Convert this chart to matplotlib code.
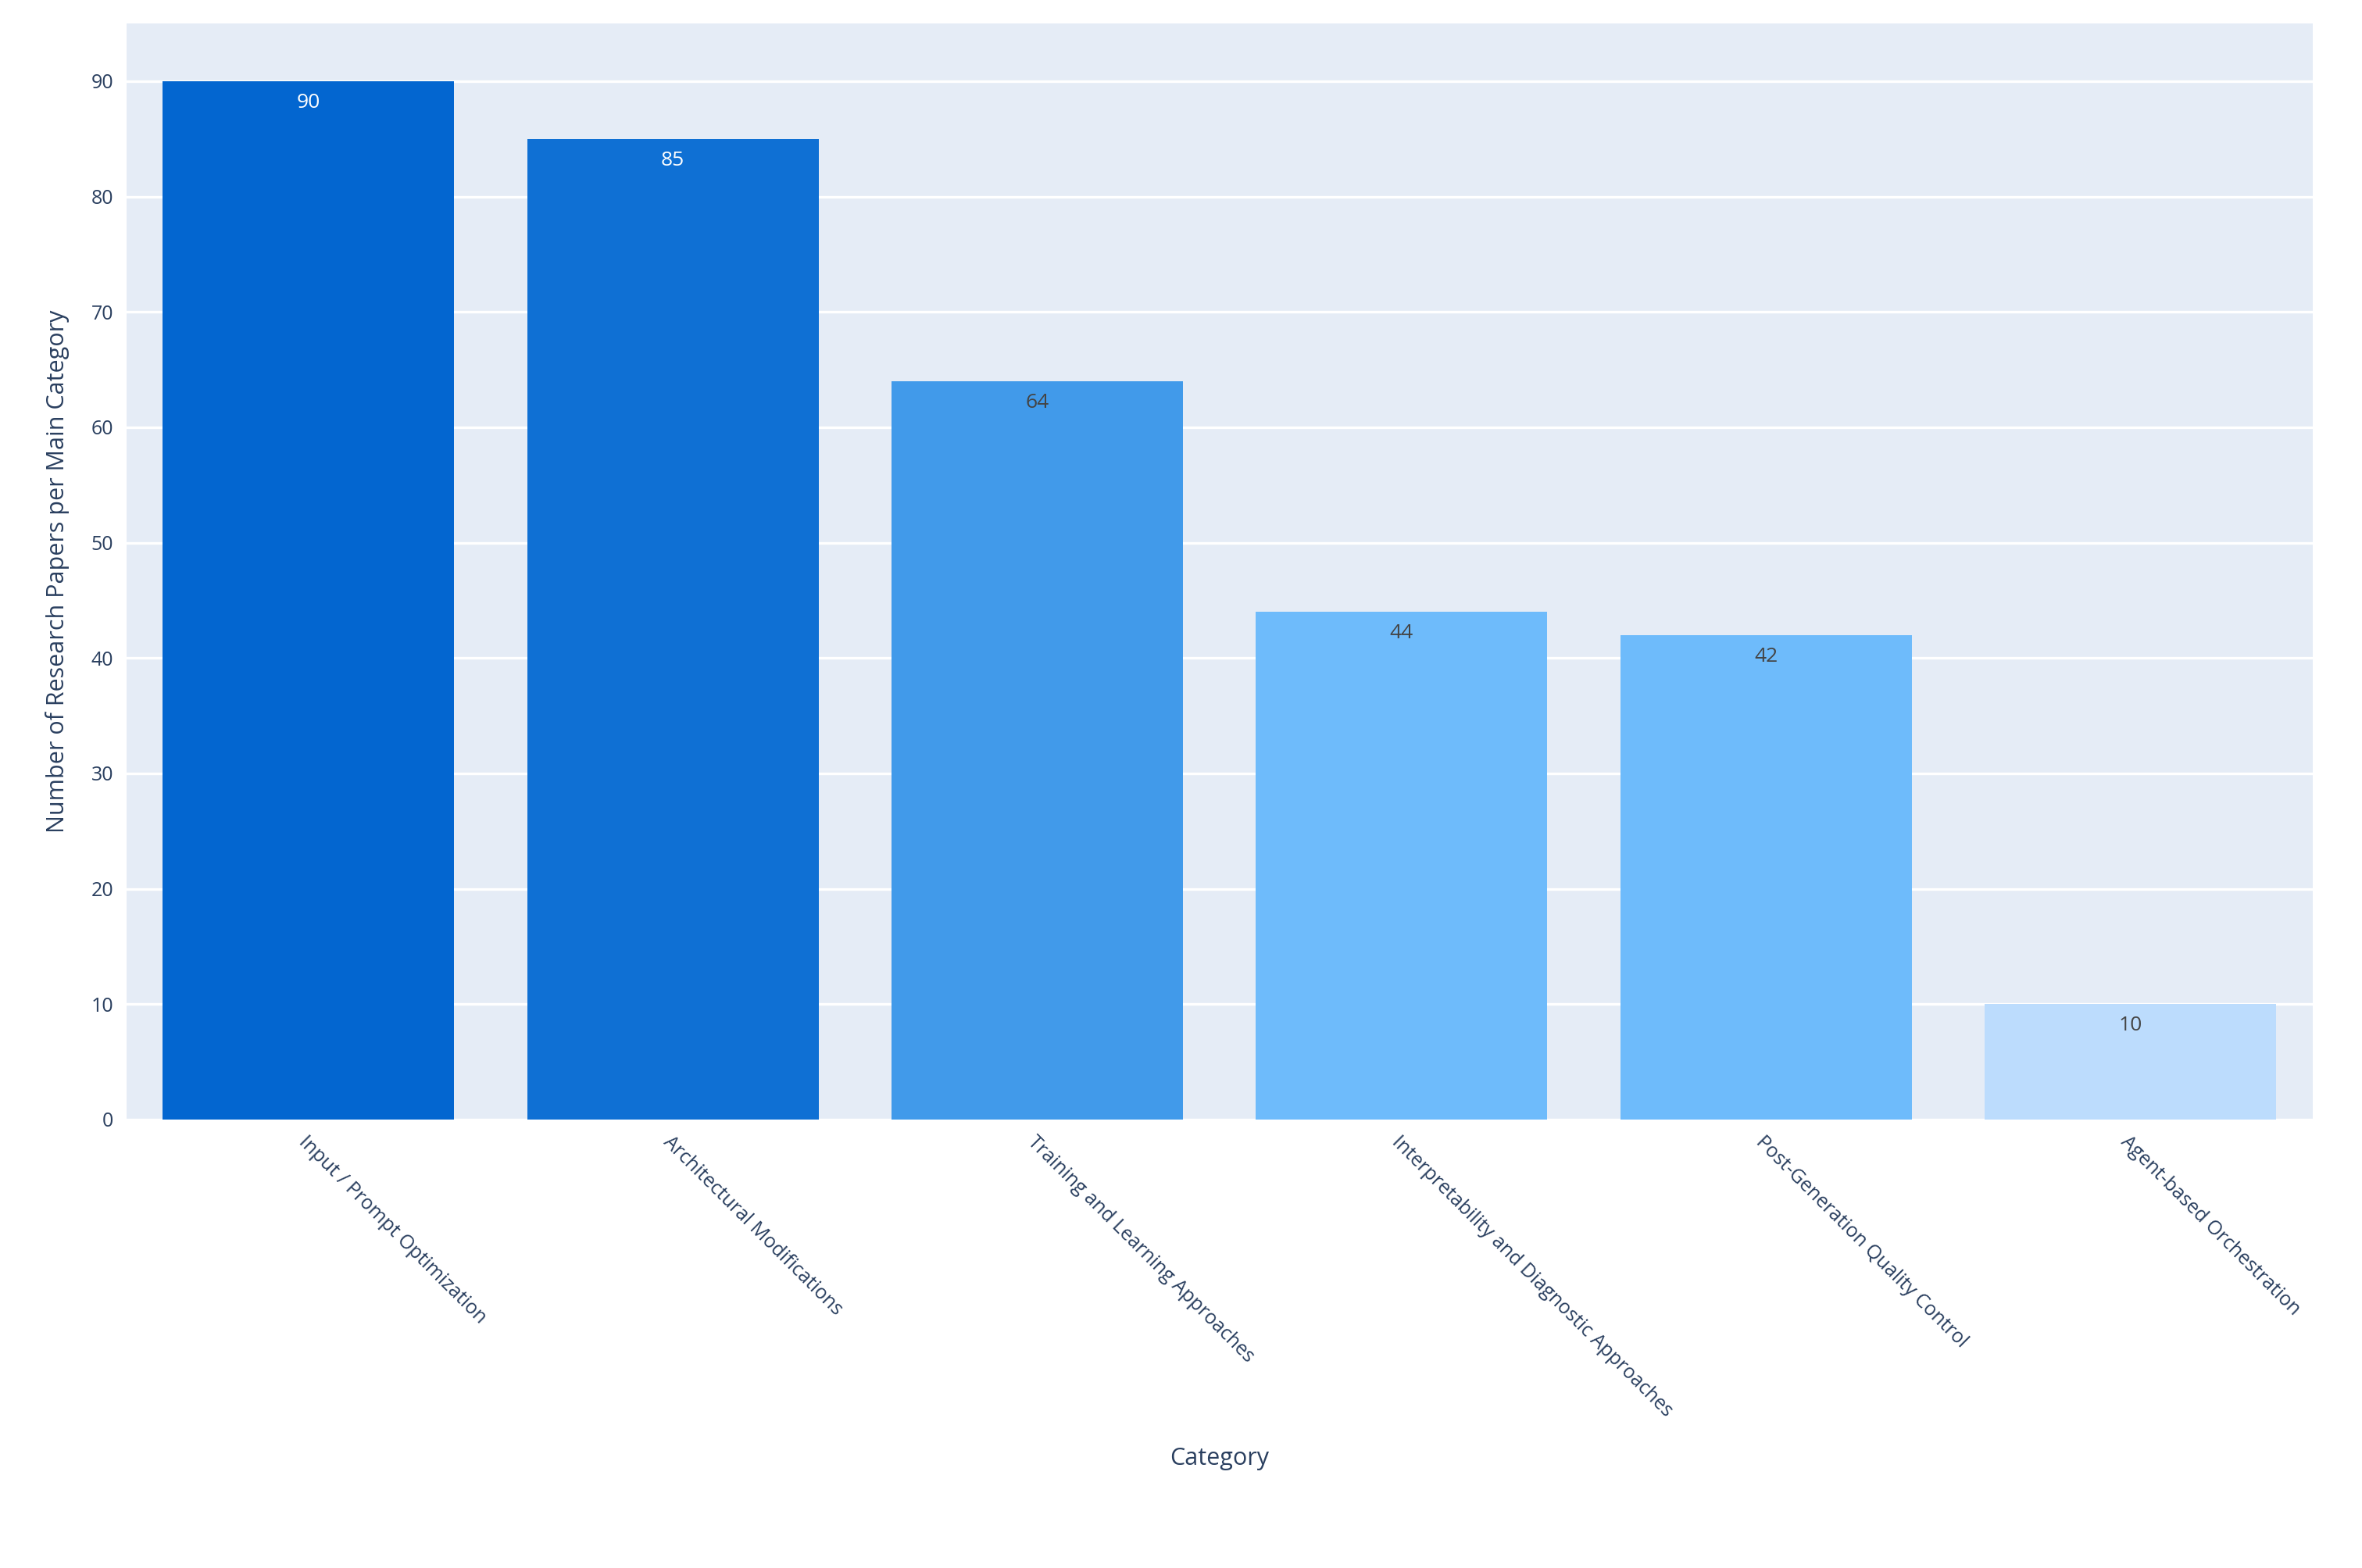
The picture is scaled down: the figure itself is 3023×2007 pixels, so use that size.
import matplotlib.pyplot as plt

categories = ['Input / Prompt Optimization', 'Architectural Modifications',
              'Training and Learning Approaches', 'Interpretability and Diagnostic Approaches',
              'Post-Generation Quality Control', 'Agent-based Orchestration']
counts = [90, 85, 64, 44, 42, 10]
colors = ['#0366d0', '#0f70d4', '#419aea', '#6ebbfb', '#6ebbfb', '#bcdcfd']
label_colors = ['white', 'white', '#444444', '#444444', '#444444', '#444444']

plt.rcParams['font.family'] = ['Open Sans', 'DejaVu Sans']
fig = plt.figure(figsize=(15.115, 10.035), dpi=200)
ax = fig.add_axes([0.0535, 0.286, 0.9255, 0.699])
ax.set_facecolor('#e5ecf6')
x = range(len(categories))
ax.bar(x, counts, width=0.8, color=colors, zorder=2)
for i, v in enumerate(counts):
    ax.text(i, v - 1, str(v), ha='center', va='top', fontsize=9.5, color=label_colors[i], zorder=3)
ax.set_xlim(-0.5, 5.5)
ax.set_ylim(0, 95)
ax.set_yticks(range(0, 91, 10))
ax.grid(axis='y', color='white', linewidth=1.2, zorder=1)
for s in ax.spines.values():
    s.set_visible(False)
ax.tick_params(length=0, labelsize=9, colors='#2a3f5f', pad=6)
ax.set_xticks(list(x))
ax.set_xticklabels(categories, rotation=-45, ha='left', rotation_mode='anchor')
ax.set_xlabel('Category', fontsize=11, color='#2a3f5f', labelpad=12)
ax.set_ylabel('Number of Research Papers per Main Category', fontsize=11, color='#2a3f5f', labelpad=10)
fig.savefig('out.png')
